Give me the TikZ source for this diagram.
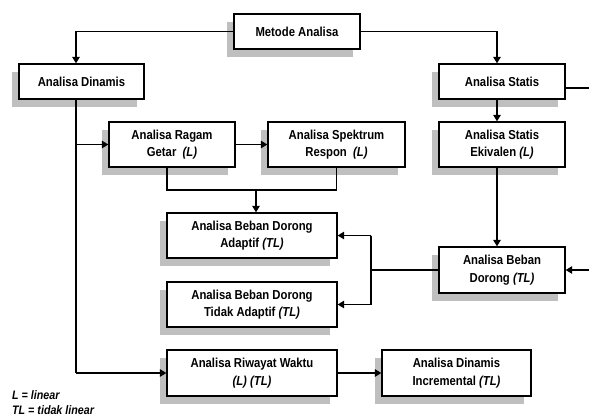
\documentclass[tikz,border=0pt]{standalone}
\usepackage{fontspec}
\setmainfont{Liberation Sans}
\newfontfamily\boxfont[FakeStretch=0.87]{Liberation Sans}
\usetikzlibrary{arrows.meta,shadows}
\begin{document}
\begin{tikzpicture}[x=1pt,y=-1pt,
  box/.style={draw=black,line width=1.3pt,fill=white,align=center,inner sep=0pt,
    font=\boxfont\fontsize{13}{17.5}\selectfont\bfseries,
    drop shadow={shadow xshift=-7pt,shadow yshift=-8pt,fill=black!25,opacity=1}},
  ln/.style={line width=1.3pt},
  arr/.style={ln,-{Triangle[length=6.5pt,width=7.5pt]}},
  legend/.style={anchor=west,inner sep=0pt,font=\boxfont\fontsize{12.3}{13}\selectfont\bfseries\itshape}]
\useasboundingbox (0,0) rectangle (589,416);
\node[box,minimum width=126pt,minimum height=35pt] (metode) at (297,31.5) {Metode Analisa};
\node[box,minimum width=125pt,minimum height=35pt] (dinamis) at (81.5,81.5) {Analisa Dinamis};
\node[box,minimum width=126pt,minimum height=35pt] (statis) at (502,81.5) {Analisa Statis};
\node[box,minimum width=126pt,minimum height=45pt] (ragam) at (172,144.5) {Analisa Ragam\\Getar\ \ \textit{(L)}};
\node[box,minimum width=137pt,minimum height=45pt] (spektrum) at (336.5,144.5) {Analisa Spektrum\\Respon\ \ \textit{(L)}};
\node[box,minimum width=126pt,minimum height=45pt] (ekivalen) at (502,144.5) {Analisa Statis\\Ekivalen \textit{(L)}};
\node[box,minimum width=170pt,minimum height=45pt] (adaptif) at (252,235.5) {Analisa Beban Dorong\\Adaptif \textit{(TL)}};
\node[box,minimum width=170pt,minimum height=45pt] (tidak) at (252,304.5) {Analisa Beban Dorong\\Tidak Adaptif \textit{(TL)}};
\node[box,minimum width=170pt,minimum height=46pt] (riwayat) at (252,373) {Analisa Riwayat Waktu\\\textit{(L) (TL)}};
\node[box,minimum width=149pt,minimum height=46pt] (incr) at (456.5,373) {Analisa Dinamis\\Incremental \textit{(TL)}};
\node[box,minimum width=126pt,minimum height=46pt] (dorong) at (502,270) {Analisa Beban\\Dorong \textit{(TL)}};
\node[legend] (l1) at (12,395) {L = linear};
\node[legend] (l2) at (12,410) {TL = tidak linear};
\coordinate (dx) at (76,0);
\coordinate (sx) at (497,0);
\coordinate (redge) at (589,0);
\coordinate (bx) at (371,0);
\coordinate (jy) at (0,190);
\coordinate (mx) at (256,0);
% connectors
\draw[arr] (metode.west) -| (dx |- dinamis.north);
\draw[arr] (metode.east) -| (sx |- statis.north);
\draw[arr] (sx |- statis.south) -- (sx |- ekivalen.north);
\draw[arr] (sx |- ekivalen.south) -- (sx |- dorong.north);
\draw[ln] ([yshift=-6.5pt]statis.east) -- ([yshift=-6.5pt]statis.east -| redge);
\draw[arr] (dorong.east -| redge) -- (dorong.east);
\draw[ln] (dx |- dinamis.south) -- (dx |- riwayat.west);
\draw[arr] (dx |- riwayat.west) -- (riwayat.west);
\draw[arr] (dx |- ragam.west) -- (ragam.west);
\draw[arr] (ragam.east) -- (spektrum.west);
\draw[ln] ([xshift=-5pt]ragam.south) |- (jy -| spektrum.south) -- (spektrum.south);
\draw[arr] (mx |- jy) -- (mx |- adaptif.north);
\draw[ln] (dorong.west) -- (bx |- dorong.west);
\draw[ln] (bx |- adaptif.east) -- (bx |- tidak.east);
\draw[arr] (bx |- adaptif.east) -- (adaptif.east);
\draw[arr] (bx |- tidak.east) -- (tidak.east);
\draw[arr] (riwayat.east) -- (incr.west);
\end{tikzpicture}
\end{document}
